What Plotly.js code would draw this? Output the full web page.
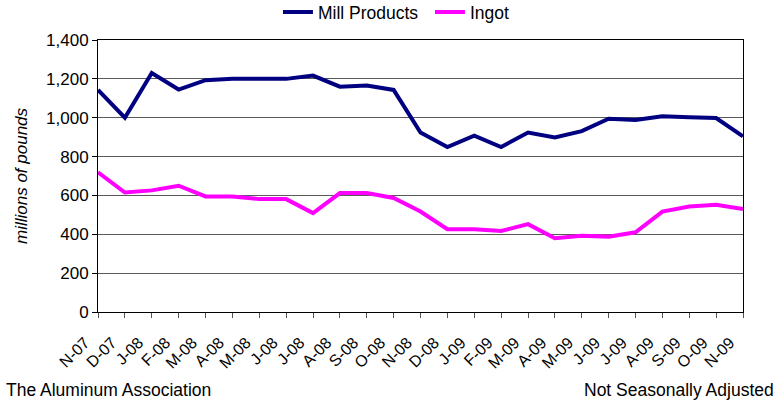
<!DOCTYPE html>
<html>
<head>
<meta charset="utf-8">
<script src="https://cdn.plot.ly/plotly-3.0.1.min.js"></script>
<style>html,body{margin:0;padding:0;background:#fff;}#chart{width:777px;height:404px;}</style>
</head>
<body>
<div id="chart"></div>
<script>
const months = ["N-07","D-07","J-08","F-08","M-08","A-08","M-08","J-08","J-08","A-08","S-08","O-08","N-08","D-08","J-09","F-09","M-09","A-09","M-09","J-09","J-09","A-09","S-09","O-09","N-09"];
const millProducts = [1143,1000,1230,1145,1193,1200,1200,1200,1217,1160,1166,1143,924,849,908,849,924,898,931,995,988,1008,1003,998,904];
const ingot = [719,615,626,650,595,595,581,581,509,612,612,587,517,426,426,417,452,380,393,388,410,517,543,552,530];
const yTicks = [0,200,400,600,800,1000,1200,1400];
const yTickText = ["0","200","400","600","800","1,000","1,200","1,400"];

const idx = months.map((m,i)=>i);
const font = "Liberation Sans, Arial, sans-serif";

const traces = [
  {x: idx, y: millProducts, name: "Mill Products", type: "scatter", mode: "lines",
   line: {color: "#000080", width: 4}},
  {x: idx, y: ingot, name: "Ingot", type: "scatter", mode: "lines",
   line: {color: "#FF00FF", width: 4}}
];

const layout = {
  width: 777, height: 404,
  margin: {l: 98, r: 34, t: 40, b: 92},
  paper_bgcolor: "#fff", plot_bgcolor: "#fff",
  font: {family: font, color: "#000", size: 16},
  showlegend: true,
  legend: {orientation: "h", xref: "paper", x: 0.279, xanchor: "left",
           yref: "container", y: 0.970, yanchor: "middle",
           entrywidth: 107, entrywidthmode: "pixels",
           font: {size: 17.5, family: font}, bgcolor: "rgba(0,0,0,0)"},
  xaxis: {
    range: [0, 24], tickmode: "array", tickvals: idx, ticktext: months,
    tickangle: -45, ticks: "outside", ticklen: 5, tickcolor: "#555",
    ticklabelstandoff: 9, ticklabelshift: -13,
    showline: true, linecolor: "#000", linewidth: 1, mirror: true,
    showgrid: false, zeroline: false, automargin: false,
    tickfont: {size: 16, family: font}
  },
  yaxis: {
    range: [0, 1400], tickmode: "array", tickvals: yTicks, ticktext: yTickText,
    ticks: "outside", ticklen: 5, tickcolor: "#000",
    showline: true, linecolor: "#000", linewidth: 1, mirror: true,
    showgrid: true, gridcolor: "#5a5a5a", gridwidth: 1, zeroline: false, automargin: false,
    tickfont: {size: 17, family: font},
    title: {text: "<i>millions of pounds</i>", font: {size: 17, family: font}, standoff: 14}
  },
  annotations: [
    {xref: "paper", yref: "paper", x: -0.1457, y: -0.285, xanchor: "left", yanchor: "middle",
     text: "The Aluminum Association", showarrow: false, font: {size: 17.5, family: font}},
    {xref: "paper", yref: "paper", x: 1.051, y: -0.285, xanchor: "right", yanchor: "middle",
     text: "Not Seasonally Adjusted", showarrow: false, font: {size: 17.5, family: font}}
  ]
};

Plotly.newPlot("chart", traces, layout, {displayModeBar: false, staticPlot: true});
</script>
</body>
</html>
